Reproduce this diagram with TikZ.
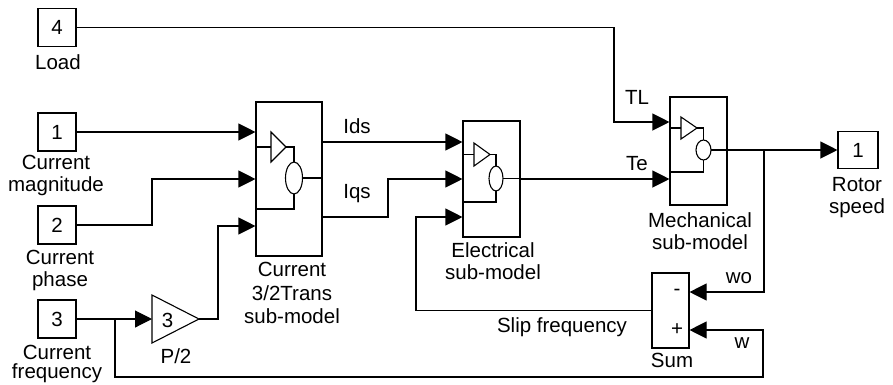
\documentclass[tikz,border=0pt]{standalone}
\usepackage{fontspec}
\setmainfont{Liberation Sans}
\usetikzlibrary{arrows.meta,calc}
\newcommand\dfont{\fontsize{20.5}{22}\selectfont}
\begin{document}
\begin{tikzpicture}[x=1pt,y=-1pt,line width=1.1pt,
  port/.style={draw,minimum width=38pt,minimum height=38pt,inner sep=0pt,font=\dfont},
  subbox/.style={draw,inner sep=0pt},
  lbl/.style={inner sep=0pt,font=\dfont,align=center},
  sig/.style={-{Triangle[length=17pt,width=17pt]}},
  icon/.style={line width=1.1pt}]
\useasboundingbox (0,0) rectangle (893,384);

% ports
\node[port] (in4) at (57,27.5) {4};
\node[port] (in1) at (57,132) {1};
\node[port] (in2) at (57,225) {2};
\node[port] (in3) at (57,319) {3};
\node[port,minimum width=40pt,minimum height=37pt] (out1) at (858,150) {1};

% sub-system blocks
\node[subbox,minimum width=66pt,minimum height=154pt] (cur) at (289,179) {};
\node[subbox,minimum width=57pt,minimum height=116pt] (ele) at (491.5,179) {};
\node[subbox,minimum width=57pt,minimum height=108pt] (mech) at (698.5,151) {};
\node[subbox,minimum width=37pt,minimum height=75pt] (sum) at (670.5,310.5) {};

% gain
\draw (152,295) -- (199,319) -- (152,343) -- cycle;
\coordinate (gin) at (152,319);
\coordinate (gout) at (199,319);
\node[lbl,anchor=base] (g3) at (167.5,327) {3};

% icons inside subsystems
\draw[icon] (256,147) -- (271,147);
\draw[icon] (271,132) -- (286,147) -- (271,162) -- cycle;
\draw[icon] (286,147) -- (294,147) -- (294,162);
\draw[icon] (294,178) ellipse [x radius=8.5, y radius=16];
\draw[icon] (302.5,178) -- (322,178);
\draw[icon] (294,194) -- (294,209) -- (256,209);

\draw[icon] (463,154.5) -- (474,154.5);
\draw[icon] (474,143) -- (490,154.5) -- (474,166) -- cycle;
\draw[icon] (490,154.5) -- (496,154.5) -- (496,166);
\draw[icon] (496,178.5) ellipse [x radius=7, y radius=12.5];
\draw[icon] (503,178.5) -- (520,178.5);
\draw[icon] (496,191) -- (496,202) -- (463,202);

\draw[icon] (670,128) -- (681,128);
\draw[icon] (681,117) -- (697,128) -- (681,139) -- cycle;
\draw[icon] (697,128) -- (703.5,128) -- (703.5,140);
\draw[icon] (703.5,150) ellipse [x radius=7.5, y radius=10];
\draw[icon] (711,150) -- (727,150);
\draw[icon] (703.5,160) -- (703.5,172) -- (670,172);

% port coordinates
\coordinate (cur-i3) at (cur.west |- 0,226);
\coordinate (cur-o1) at (cur.east |- 0,142);
\coordinate (cur-o2) at (cur.east |- 0,217);
\coordinate (ele-i1) at (ele.west |- 0,142);
\coordinate (ele-i3) at (ele.west |- 0,217);
\coordinate (mech-i1) at (mech.west |- 0,122);
\coordinate (mech-i2) at (mech.west |- 0,179);
\coordinate (mech-o) at (mech.east |- 0,150);
\coordinate (sum-i1) at (sum.east |- 0,292);
\coordinate (sum-i2) at (sum.east |- 0,330);
\coordinate (br1) at (115,319);
\coordinate (br2) at (764,150);

% connectors
\draw[sig] (in4.east) -- (614,27.5) -- (614,122) -- (mech-i1);
\draw[sig] (in1.east) -- (in1.east -| cur.west);
\draw[sig] (in2.east) -- (152,225) -- (152,179) -- (cur.west);
\draw[sig] (in3.east) -- (gin);
\draw[sig] (gout) -- (218,319) -- (218,226) -- (cur-i3);
\draw[sig] (br1) -- (115,377) -- (763,377) -- (763,330) -- (sum-i2);
\draw[sig] (cur-o1) -- (ele-i1);
\draw[sig] (cur-o2) -- (388,217) -- (388,179) -- (ele.west);
\draw[sig] (sum.west) -- (416,310.5) -- (416,217) -- (ele-i3);
\draw[sig] (ele.east) -- (mech-i2);
\draw[sig] (mech-o) -- (mech-o -| out1.west);
\draw[sig] (br2) -- (764,292) -- (sum-i1);

% labels
\node[lbl,anchor=base] (l4) at (58,69) {Load};
\node[lbl,anchor=north] (l1) at (56,155) {Current\\magnitude};
\node[lbl,anchor=north] (l2) at (60,250) {Current\\phase};
\node[lbl,anchor=north,font=\fontsize{20.5}{19}\selectfont] (l3) at (57,345) {Current\\frequency};
\node[lbl,anchor=base] (lg) at (176,363) {P/2};
\node[lbl,anchor=north,font=\fontsize{20.5}{23.5}\selectfont] (lcur) at (292,262) {Current\\3/2Trans\\sub-model};
\node[lbl,anchor=north] (lele) at (493,242) {Electrical\\sub-model};
\node[lbl,anchor=north] (lmech) at (700,212) {Mechanical\\sub-model};
\node[lbl,anchor=north] (lout) at (857,177) {Rotor\\speed};
\node[lbl,anchor=base] (lsum) at (672,367) {Sum};
\node[lbl,anchor=base] (lslip) at (562,332) {Slip frequency};
\node[lbl,anchor=base] (lwo) at (739,283) {wo};
\node[lbl,anchor=base] (lw) at (742,348) {w};
\node[lbl] (lminus) at (677,292) {-};
\node[lbl] (lplus) at (677,330) {+};
\node[lbl,anchor=base] (lTL) at (637,104) {TL};
\node[lbl,anchor=base] (lTe) at (637,170) {Te};
\node[lbl,anchor=base] (lIds) at (357,133) {Ids};
\node[lbl,anchor=base] (lIqs) at (357,198) {Iqs};
\end{tikzpicture}
\end{document}
